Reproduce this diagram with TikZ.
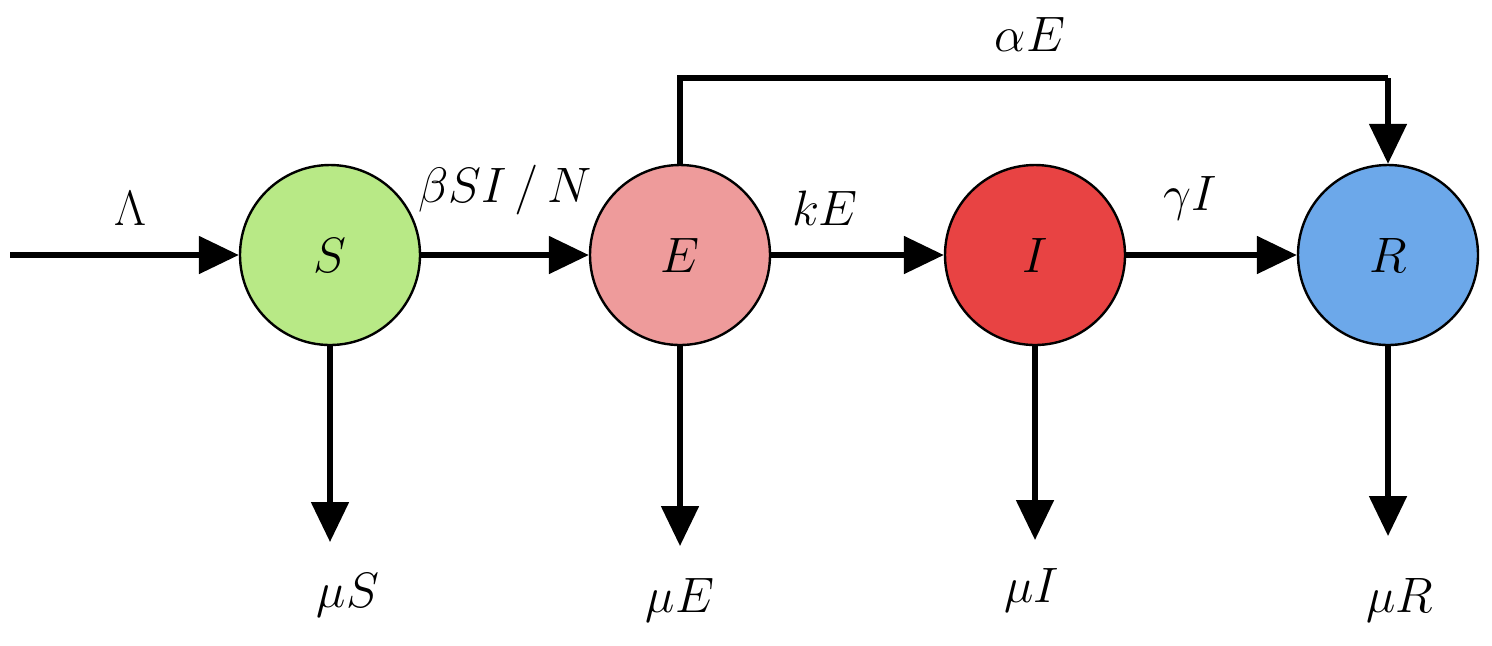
\documentclass[tikz,border=0pt]{standalone}
\usetikzlibrary{arrows.meta}
\definecolor{sgreen}{HTML}{B8E986}
\definecolor{epink}{HTML}{EE9B9B}
\definecolor{ired}{HTML}{E84343}
\definecolor{rblue}{HTML}{6CA8EA}
\tikzset{
  comp/.style={circle, draw=black, line width=1.2pt, minimum size=90pt, inner sep=0pt, font=\fontsize{28}{34}\selectfont},
  flow/.style={line width=2.6pt, -{Triangle[length=20pt,width=18.5pt]}},
  lbl/.style={font=\fontsize{28}{34}\selectfont, inner sep=0pt}
}
\begin{document}
\begin{tikzpicture}[x=0.5pt,y=-0.5pt]
\useasboundingbox (0,0) rectangle (1492,645);
\node[comp, fill=sgreen] (S) at (330,255) {$S$};
\node[comp, fill=epink] (E) at (680,255) {$E$};
\node[comp, fill=ired] (I) at (1035,255) {$I$};
\node[comp, fill=rblue] (R) at (1388,255) {$R$};
\coordinate (in) at (10,255);
\coordinate (topE) at (680,78);
\coordinate (topR) at (1388,78);
\coordinate (dS) at (330,542);
\coordinate (dE) at (680,546);
\coordinate (dI) at (1035,540);
\coordinate (dR) at (1388,536);
\draw[flow] (in) -- (S.west);
\draw[flow] (S.east) -- (E.west);
\draw[flow] (E.east) -- (I.west);
\draw[flow] (I.east) -- (R.west);
\draw[line width=2.6pt, line join=miter] (E.north) -- (topE) -- (topR);
\draw[flow] (topR) -- (R.north);
\draw[flow] (S.south) -- (dS);
\draw[flow] (E.south) -- (dE);
\draw[flow] (I.south) -- (dI);
\draw[flow] (R.south) -- (dR);
\node[lbl] (lLam) at (130,208) {$\Lambda$};
\node[lbl] (lbeta) at (505,190) {$\beta S I\,/\,N$};
\node[lbl] (lk) at (825,208) {$kE$};
\node[lbl] (lg) at (1190,198) {$\gamma I$};
\node[lbl] (la) at (1030,34) {$\alpha E$};
\node[lbl] (lmS) at (348,595) {$\mu S$};
\node[lbl] (lmE) at (680,600) {$\mu E$};
\node[lbl] (lmI) at (1032,590) {$\mu I$};
\node[lbl] (lmR) at (1400,600) {$\mu R$};
\end{tikzpicture}
\end{document}
